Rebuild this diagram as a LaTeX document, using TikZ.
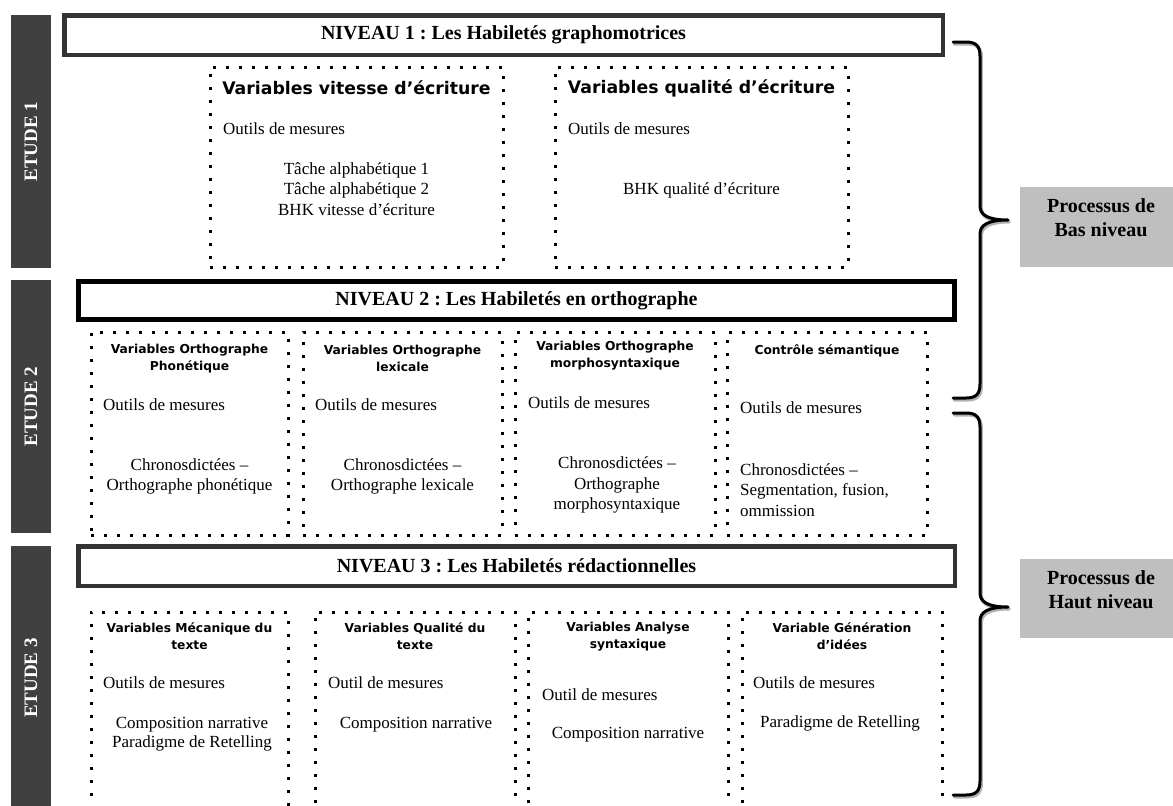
\documentclass[tikz,border=0pt]{standalone}
\usepackage{fontspec}
\setmainfont{Liberation Serif}
\newfontfamily\titlefont{DejaVu Sans}
\definecolor{bardark}{HTML}{404040}
\definecolor{boxgray}{HTML}{BFBFBF}
\definecolor{framegray}{HTML}{333333}
\frenchspacing
\begin{document}
\begin{tikzpicture}[x=1pt,y=-1pt,
  lvlbox/.style={draw=framegray, line width=4.5pt, inner sep=0pt, font=\bfseries\fontsize{20}{24}\selectfont},
  dotbox/.style={draw=black, line width=3pt, dash pattern=on 3pt off 10pt, inner sep=0pt},
  etudebar/.style={fill=bardark, inner sep=0pt},
  etudetxt/.style={text=white, font=\bfseries\fontsize{19}{22}\selectfont, rotate=90, inner sep=0pt},
  bigttl/.style={font=\titlefont\bfseries\fontsize{17.3}{20}\selectfont, inner sep=0pt},
  smallttl/.style={font=\titlefont\bfseries\fontsize{12.3}{17}\selectfont, align=center, inner sep=0pt},
  bodyc/.style={font=\fontsize{17}{20.5}\selectfont, align=center, inner sep=0pt},
  bodyl/.style={font=\fontsize{17}{20.5}\selectfont, align=left, anchor=west, inner sep=0pt},
  procbox/.style={fill=boxgray, inner sep=0pt},
  proctxt/.style={font=\bfseries\fontsize{20}{24}\selectfont, align=center, inner sep=0pt},
  bracepath/.style={line width=3pt, line cap=round, line join=round},
  braceshadow/.style={line width=3.5pt, draw=black!30, line cap=round, line join=round}
]
\useasboundingbox (0,0) rectangle (1173,806);
\clip (0,0) rectangle (1173,806);

% ETUDE bars
\node[etudebar, minimum width=40, minimum height=253] (e1) at (31,141.5) {};
\node[etudebar, minimum width=40, minimum height=253] (e2) at (31,406.5) {};
\node[etudebar, minimum width=40, minimum height=284] (e3) at (31,688) {};
\node[etudetxt] (e1t) at (31,141.5) {ETUDE 1};
\node[etudetxt] (e2t) at (31,406.5) {ETUDE 2};
\node[etudetxt] (e3t) at (31,678) {ETUDE 3};

% Level boxes
\node[lvlbox, minimum width=878.5, minimum height=39.5] (n1) at (503.5,35) {NIVEAU 1 : Les Habilet\'es graphomotrices};
\node[lvlbox, draw=black, line width=5pt, minimum width=876, minimum height=38] (n2) at (516.5,300.5) {NIVEAU 2 : Les Habilet\'es en orthographe};
\node[lvlbox, minimum width=876.5, minimum height=39.5] (n3) at (516.5,566) {NIVEAU 3 : Les Habilet\'es r\'edactionnelles};

% Level 1 dotted boxes
\node[dotbox, minimum width=293, minimum height=200] (a1) at (356.5,167) {};
\node[dotbox, minimum width=293, minimum height=200] (a2) at (701.5,167) {};
\node[bigttl] (a1t) at (356.5,88) {Variables vitesse d’écriture};
\node[bodyl] (a1o) at (223,129) {Outils de mesures};
\node[bodyc] (a1c) at (356.5,189) {Tâche alphabétique 1\\Tâche alphabétique 2\\BHK vitesse d’écriture};
\node[bigttl] (a2t) at (701.5,88) {Variables qualité d’écriture};
\node[bodyl] (a2o) at (568,129) {Outils de mesures};
\node[bodyc] (a2c) at (701.5,190) {BHK qualité d’écriture};

% Level 2 dotted boxes
\node[dotbox, minimum width=197, minimum height=203] (b1) at (189.5,433.5) {};
\node[dotbox, minimum width=199, minimum height=203] (b2) at (402.5,433.5) {};
\node[dotbox, minimum width=200, minimum height=203] (b3) at (615,433.5) {};
\node[dotbox, minimum width=200, minimum height=203] (b4) at (827,433.5) {};
\node[smallttl] (b1t) at (189.5,358.5) {Variables Orthographe\\Phonétique};
\node[bodyl] (b1o) at (103,405) {Outils de mesures};
\node[bodyc] (b1c) at (189.5,476.5) {Chronosdictées –\\Orthographe phonétique};
\node[smallttl] (b2t) at (402.5,358.5) {Variables Orthographe\\lexicale};
\node[bodyl] (b2o) at (315,405) {Outils de mesures};
\node[bodyc] (b2c) at (402.5,476.5) {Chronosdictées –\\Orthographe lexicale};
\node[smallttl] (b3t) at (615,356) {Variables Orthographe\\morphosyntaxique};
\node[bodyl] (b3o) at (528,403) {Outils de mesures};
\node[bodyc] (b3c) at (617,485) {Chronosdictées –\\Orthographe\\morphosyntaxique};
\node[smallttl] (b4t) at (827,351) {Contrôle sémantique};
\node[bodyl] (b4o) at (740,408) {Outils de mesures};
\node[bodyl] (b4c) at (740,490) {Chronosdictées –\\Segmentation, fusion,\\ommission};

% Level 3 dotted boxes (open at the bottom edge)
\node[dotbox, minimum width=197, minimum height=218] (c1) at (189.5,721) {};
\node[dotbox, minimum width=200, minimum height=218] (c2) at (415,721) {};
\node[dotbox, minimum width=200, minimum height=218] (c3) at (628,721) {};
\node[dotbox, minimum width=200, minimum height=218] (c4) at (842,721) {};
\node[smallttl] (c1t) at (189.5,636.5) {Variables Mécanique du\\texte};
\node[bodyl] (c1o) at (103,683) {Outils de mesures};
\node[bodyc, font=\fontsize{17}{18.5}\selectfont] (c1c) at (192,734) {Composition narrative\\Paradigme de Retelling};
\node[smallttl] (c2t) at (415,636.5) {Variables Qualité du\\texte};
\node[bodyl] (c2o) at (328,683) {Outil de mesures};
\node[bodyc] (c2c) at (416,725) {Composition narrative};
\node[smallttl] (c3t) at (628,636.5) {Variables Analyse\\syntaxique};
\node[bodyl] (c3o) at (542,695) {Outil de mesures};
\node[bodyc] (c3c) at (628,735) {Composition narrative};
\node[smallttl] (c4t) at (842,636.5) {Variable Génération\\d’idées};
\node[bodyl] (c4o) at (753,683) {Outils de mesures};
\node[bodyc] (c4c) at (840,723) {Paradigme de Retelling};

% Process boxes
\node[procbox, minimum width=153, minimum height=80] (p1) at (1096.5,227) {};
\node[proctxt] (p1t) at (1101,218) {Processus de\\Bas niveau};
\node[procbox, minimum width=153, minimum height=79] (p2) at (1096.5,598.5) {};
\node[proctxt] (p2t) at (1101,589.5) {Processus de\\Haut niveau};

% Braces
\foreach \s/\sty in {1.2/braceshadow, 0/bracepath}{
  \begin{scope}[shift={(\s,\s*1.5)}]
  \draw[\sty] (953,42) -- (966,42) .. controls (976,42) and (980,46) .. (980,56)
    -- (980,206) .. controls (980,215) and (988,220) .. (1008,220)
    .. controls (988,220) and (980,225) .. (980,234)
    -- (980,384) .. controls (980,394) and (976,398) .. (966,398) -- (953,398);
  \draw[\sty] (953,413) -- (966,413) .. controls (976,413) and (980,417) .. (980,427)
    -- (980,593) .. controls (980,602) and (988,607) .. (1008,607)
    .. controls (988,607) and (980,612) .. (980,621)
    -- (980,781) .. controls (980,791) and (976,795) .. (966,795) -- (953,795);
  \end{scope}
}
\end{tikzpicture}
\end{document}
